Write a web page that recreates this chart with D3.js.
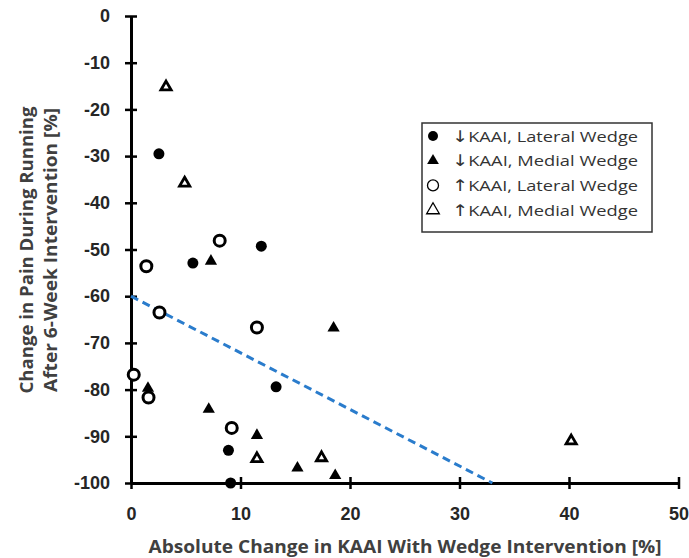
<!DOCTYPE html>
<html>
<head>
<meta charset="utf-8">
<script src="https://cdn.jsdelivr.net/npm/d3@7"></script>
<style>
  body { margin: 0; background: #fff; }
  svg { display: block; font-family: "Open Sans", sans-serif; }
</style>
</head>
<body>
<div id="chart"></div>
<script>
// Data
const downLateralX = [2.55, 5.65, 11.9, 13.25, 8.9, 9.1];
const downLateralY = [-29.5, -52.9, -49.3, -79.4, -93, -100];

const downMedialX = [7.3, 1.55, 7.1, 11.5, 15.2, 18.65, 18.5];
const downMedialY = [-52.5, -79.7, -84.2, -89.8, -96.8, -98.4, -66.8];

const upLateralX = [1.4, 8.1, 2.6, 11.5, 0.25, 1.6, 9.2];
const upLateralY = [-53.6, -48.1, -63.5, -66.7, -76.8, -81.7, -88.2];

const upMedialX = [3.2, 4.9, 11.5, 17.4, 40.2];
const upMedialY = [-15.2, -35.8, -94.8, -94.6, -91];

const trendX = [0, 33];
const trendY = [-60, -100];

const xTicks = [0, 10, 20, 30, 40, 50];
const yTicks = [0, -10, -20, -30, -40, -50, -60, -70, -80, -90, -100];

const seriesArrows = ['\u2193', '\u2193', '\u2191', '\u2191'];
const seriesNames = ['KAAI, Lateral Wedge', 'KAAI, Medial Wedge', 'KAAI, Lateral Wedge', 'KAAI, Medial Wedge'];

const width = 689;
const height = 558;
const margin = { top: 16, left: 131, bottom: 75, right: 10.5 };

const svg = d3.select('#chart')
  .append('svg')
    .attr('width', width)
    .attr('height', height);

// Scales
const xScale = d3.scaleLinear()
  .domain([0, 50])
  .range([margin.left, width - margin.right]);

const yScale = d3.scaleLinear()
  .domain([0, -100])
  .range([margin.top, height - margin.bottom]);

// Axes
const axisColor = '#000';
const labelColor = '#262626';
const titleColor = '#404040';

const xAxis = svg.append('g')
  .attr('transform', `translate(0,${yScale(-100)})`)
  .call(d3.axisBottom(xScale).tickValues(xTicks).tickFormat((d) => String(d)).tickSize(6).tickSizeOuter(0));

xAxis.select('.domain').attr('stroke', axisColor).attr('stroke-width', 3);
xAxis.selectAll('.tick line').attr('y1', -6).attr('stroke', axisColor).attr('stroke-width', 2.5);
xAxis.selectAll('.tick text')
  .attr('y', 31)
  .attr('dy', '0.35em')
  .attr('fill', labelColor)
  .style('font-size', '18px')
  .style('font-weight', 'bold');

const yAxis = svg.append('g')
  .attr('transform', `translate(${xScale(0)},0)`)
  .call(d3.axisLeft(yScale).tickValues(yTicks).tickFormat((d) => String(d)).tickSize(6).tickPadding(15).tickSizeOuter(0));

yAxis.select('.domain').attr('stroke', axisColor).attr('stroke-width', 3);
yAxis.selectAll('.tick line').attr('x1', 6).attr('stroke', axisColor).attr('stroke-width', 2.5);
yAxis.selectAll('.tick text')
  .attr('fill', labelColor)
  .style('font-size', '18px')
  .style('font-weight', 'bold');

// Axis titles
svg.append('text')
  .attr('x', 405)
  .attr('y', 547)
  .attr('dy', '0.35em')
  .attr('text-anchor', 'middle')
  .attr('fill', titleColor)
  .attr('textLength', 513)
  .attr('lengthAdjust', 'spacingAndGlyphs')
  .style('font-size', '17px')
  .style('font-weight', 'bold')
  .text('Absolute Change in KAAI With Wedge Intervention [%]');

const yTitle = svg.append('g')
  .attr('transform', 'translate(0,250) rotate(-90)');

yTitle.append('text')
  .attr('x', 0)
  .attr('y', 27)
  .attr('dy', '0.35em')
  .attr('text-anchor', 'middle')
  .attr('fill', titleColor)
  .attr('textLength', 287)
  .attr('lengthAdjust', 'spacingAndGlyphs')
  .style('font-size', '17px')
  .style('font-weight', 'bold')
  .text('Change in Pain During Running');

yTitle.append('text')
  .attr('x', 0)
  .attr('y', 51)
  .attr('dy', '0.35em')
  .attr('text-anchor', 'middle')
  .attr('fill', titleColor)
  .attr('textLength', 284)
  .attr('lengthAdjust', 'spacingAndGlyphs')
  .style('font-size', '17px')
  .style('font-weight', 'bold')
  .text('After 6-Week Intervention [%]');

// Trend line
svg.append('line')
  .attr('x1', xScale(trendX[0]))
  .attr('y1', yScale(trendY[0]))
  .attr('x2', xScale(trendX[1]))
  .attr('y2', yScale(trendY[1]))
  .attr('stroke', '#2a7ccc')
  .attr('stroke-width', 3)
  .attr('stroke-dasharray', '8,5');

// Markers
const triangle = d3.symbol().type(d3.symbolTriangle);
const zip = (xs, ys) => xs.map((x, i) => ({ x, y: ys[i] }));

svg.append('g').selectAll('circle')
  .data(zip(downLateralX, downLateralY))
  .join('circle')
    .attr('cx', (d) => xScale(d.x))
    .attr('cy', (d) => yScale(d.y))
    .attr('r', 5.5)
    .attr('fill', '#000');

svg.append('g').selectAll('path')
  .data(zip(downMedialX, downMedialY))
  .join('path')
    .attr('transform', (d) => `translate(${xScale(d.x)},${yScale(d.y)})`)
    .attr('d', triangle.size(65))
    .attr('fill', '#000');

svg.append('g').selectAll('circle')
  .data(zip(upLateralX, upLateralY))
  .join('circle')
    .attr('cx', (d) => xScale(d.x))
    .attr('cy', (d) => yScale(d.y))
    .attr('r', 5.5)
    .attr('fill', '#fff')
    .attr('stroke', '#000')
    .attr('stroke-width', 3);

svg.append('g').selectAll('path')
  .data(zip(upMedialX, upMedialY))
  .join('path')
    .attr('transform', (d) => `translate(${xScale(d.x)},${yScale(d.y)})`)
    .attr('d', triangle.size(45))
    .attr('fill', '#fff')
    .attr('stroke', '#000')
    .attr('stroke-width', 2.8)
    .attr('stroke-linejoin', 'miter');

// Legend
const legend = svg.append('g').attr('transform', 'translate(422,123)');

legend.append('rect')
  .attr('width', 230)
  .attr('height', 109)
  .attr('fill', '#fff')
  .attr('stroke', '#333')
  .attr('stroke-width', 1.5);

const rows = legend.selectAll('g.row')
  .data(seriesNames)
  .join('g')
    .attr('class', 'row')
    .attr('transform', (d, i) => `translate(11,${13 + i * 24.7})`);

rows.each(function (d, i) {
  const g = d3.select(this);
  if (i === 0) {
    g.append('circle').attr('r', 5).attr('fill', '#000');
  } else if (i === 1) {
    g.append('path').attr('d', d3.symbol().type(d3.symbolTriangle).size(60)()).attr('fill', '#000');
  } else if (i === 2) {
    g.append('circle').attr('r', 5.5).attr('fill', 'none').attr('stroke', '#000').attr('stroke-width', 1.3);
  } else {
    g.append('path').attr('d', d3.symbol().type(d3.symbolTriangle).size(70)()).attr('fill', 'none').attr('stroke', '#000').attr('stroke-width', 1.3);
  }
});

const labels = rows.append('text')
  .attr('x', 19)
  .attr('dy', '0.37em')
  .attr('fill', '#333')
  .attr('textLength', 186)
  .attr('lengthAdjust', 'spacingAndGlyphs')
  .style('font-size', '15px');

labels.append('tspan')
  .style('font-family', '"DejaVu Sans", sans-serif')
  .style('font-size', '16px')
  .text((d, i) => seriesArrows[i]);

labels.append('tspan')
  .text((d) => d);
</script>
</body>
</html>
